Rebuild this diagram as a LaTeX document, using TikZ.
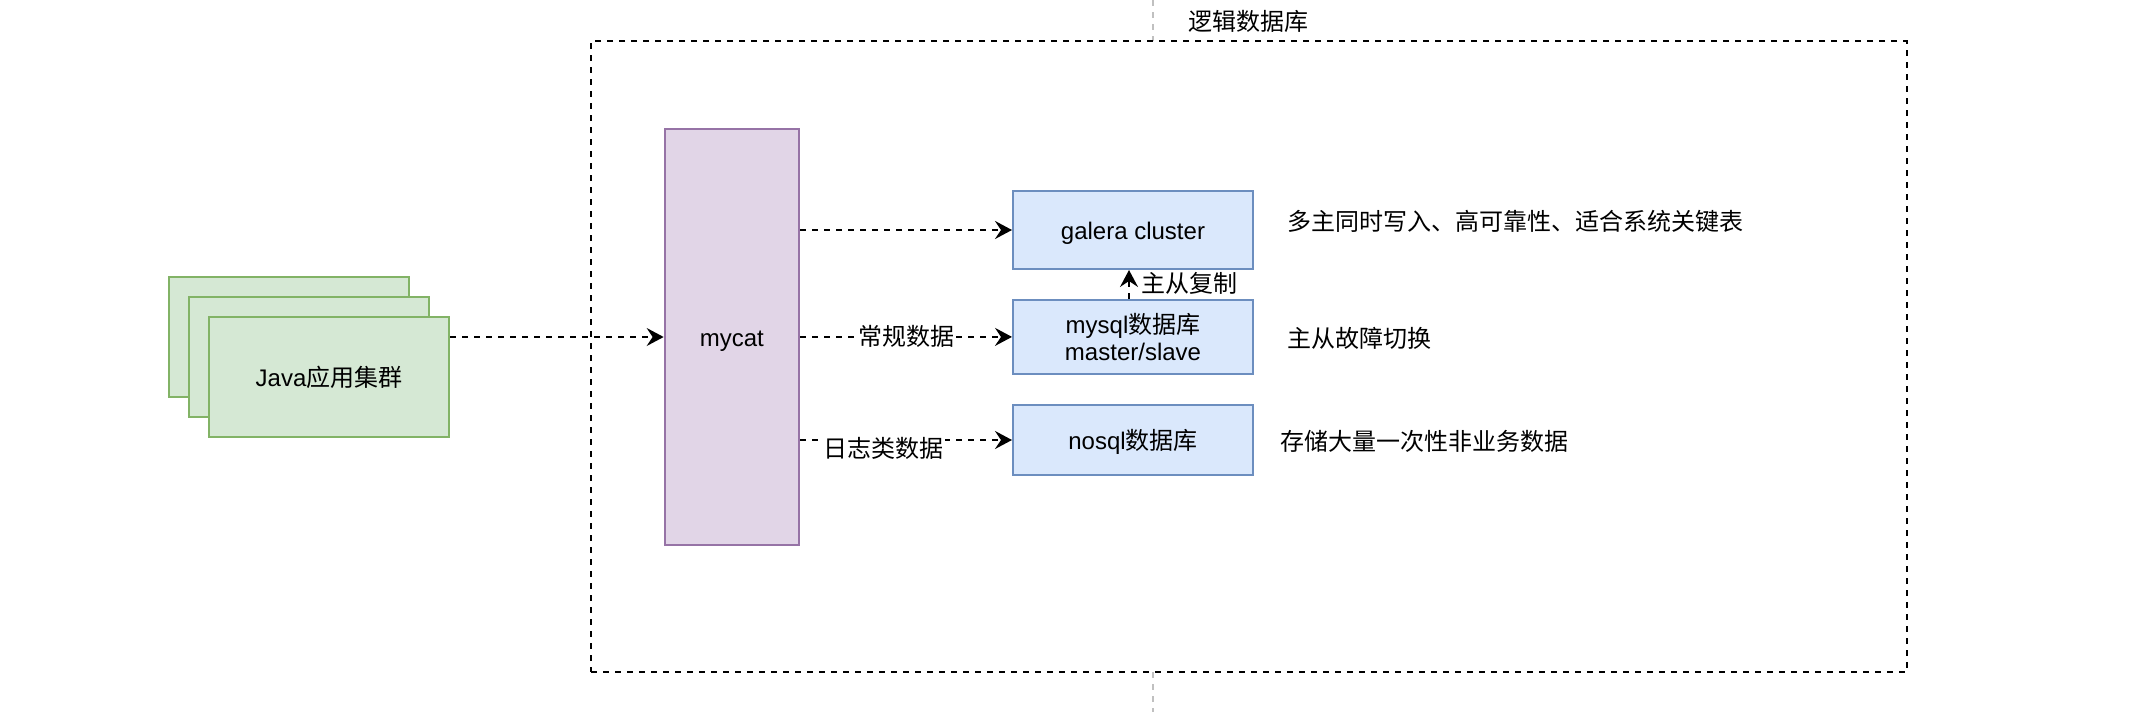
\documentclass[tikz,border=0pt]{standalone}
\usepackage{fontspec}
\setmainfont{Liberation Sans}
\newfontfamily\cjk{Noto Sans CJK SC}
\usetikzlibrary{arrows.meta}
\definecolor{gfill}{HTML}{D5E8D4}
\definecolor{gline}{HTML}{82B366}
\definecolor{pfill}{HTML}{E1D5E7}
\definecolor{pline}{HTML}{9673A6}
\definecolor{bfill}{HTML}{DAE8FC}
\definecolor{bline}{HTML}{6C8EBF}
\definecolor{sepgray}{HTML}{C0C0C0}
\tikzset{
  txt/.style={inner sep=0pt, text height=22.5pt, text depth=2.9pt, font=\fontsize{24}{28.8}\selectfont},
  greenbox/.style={txt, draw=gline, fill=gfill, line width=2pt, minimum width=240pt, minimum height=120pt},
  purplebox/.style={txt, draw=pline, fill=pfill, line width=2pt, minimum width=134.5pt, minimum height=416pt},
  bluebox/.style={txt, draw=bline, fill=bfill, line width=2pt, minimum width=240pt},
  flow/.style={line width=2pt, dash pattern=on 6pt off 6pt, -{Stealth[length=17pt,width=18pt,inset=6pt]}},
  edgelabel/.style={txt, fill=white, inner xsep=1.5pt, inner ysep=1pt},
}
\begin{document}
\begin{tikzpicture}[x=1pt,y=-1pt]
\useasboundingbox (0,0) rectangle (2140,712);
% separator line (behind the group box)
\draw[sepgray, line width=2pt, dash pattern=on 6pt off 6pt] (1152.7,0) -- (1152.7,41);
\draw[sepgray, line width=2pt, dash pattern=on 6pt off 6pt] (1152.7,672) -- (1152.7,712);
% logical database group
\node[draw, fill=white, line width=2pt, dash pattern=on 6pt off 6pt, minimum width=1315.5pt, minimum height=631pt, inner sep=0pt] (group) at (1248.75,356.5) {};
\node[txt] (grouptitle) at (1248,21) {\cjk 逻辑数据库};
% Java cluster stack
\node[greenbox] (java1) at (289,336.7) {};
\node[greenbox] (java2) at (309,357) {};
\node[greenbox] (java3) at (329,377) {Java{\cjk 应用集群}};
% mycat
\node[purplebox] (mycat) at (731.9,337) {mycat};
% databases
\node[bluebox, minimum height=78pt] (galera) at (1133,230) {galera cluster};
\node[bluebox, minimum height=74pt] (mysql) at (1133,336.9) {};
\node[txt] (mysqlA) at (1133,323.3) {mysql{\cjk 数据库}};
\node[txt] (mysqlB) at (1133,351.1) {master/slave};
\node[bluebox, minimum height=70pt] (nosql) at (1133,440) {nosql{\cjk 数据库}};
% notes
\node[txt, anchor=west] (note1) at (1287,221) {\cjk 多主同时写入、高可靠性、适合系统关键表};
\node[txt, anchor=west] (note2) at (1287,337.3) {\cjk 主从故障切换};
\node[txt, anchor=west] (note3) at (1280,440.7) {\cjk 存储大量一次性非业务数据};
% connectors
\draw[flow] (java3.east |- mycat.west) -- (mycat.west);
\draw[flow] (mycat.east |- galera.west) -- (galera.west);
\draw[flow] (mycat.east |- mysql.west) -- (mysql.west);
\draw[flow] (mycat.east |- nosql.west) -- (nosql.west);
\draw[flow] ([xshift=-4pt]mysql.north) -- ([xshift=-4pt]galera.south);
% connector labels
\node[edgelabel] (lab1) at (906.7,336) {\cjk 常规数据};
\node[edgelabel] (lab2) at (883,447.6) {\cjk 日志类数据};
\node[txt, anchor=west] (lab3) at (1141,282.6) {\cjk 主从复制};
\end{tikzpicture}
\end{document}
